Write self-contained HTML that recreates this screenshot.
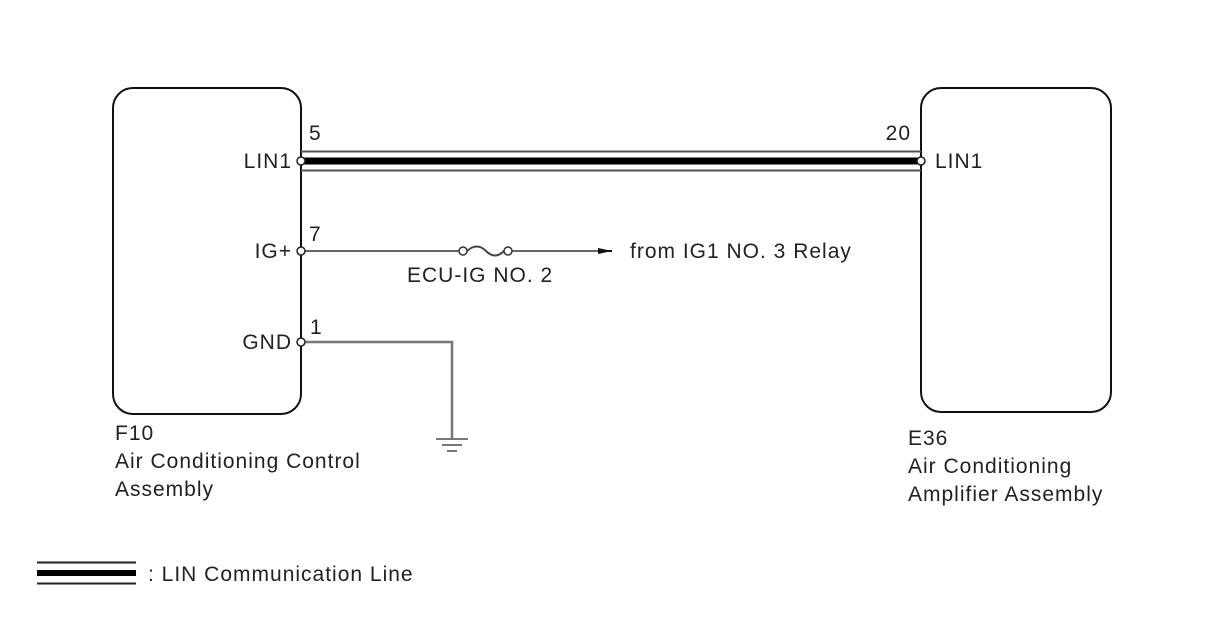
<!DOCTYPE html>
<html><head><meta charset="utf-8"><style>
html,body{margin:0;padding:0;background:#fff;}
svg{display:block;}
text{font-family:"Liberation Sans",Arial,sans-serif;font-size:21px;letter-spacing:1px;fill:#222;}
</style></head><body>
<svg width="1208" height="644" viewBox="0 0 1208 644" xmlns="http://www.w3.org/2000/svg">
<rect width="1208" height="644" fill="#fff"/>
<rect x="113" y="88" width="188" height="326" rx="20" fill="none" stroke="#111" stroke-width="2"/>
<rect x="921" y="88" width="190" height="324" rx="20" fill="none" stroke="#111" stroke-width="2"/>
<line x1="301" y1="151.5" x2="921" y2="151.5" stroke="#555" stroke-width="2"/>
<line x1="301" y1="170.5" x2="921" y2="170.5" stroke="#555" stroke-width="2"/>
<line x1="301" y1="161" x2="921" y2="161" stroke="#000" stroke-width="7"/>
<line x1="301" y1="251" x2="459" y2="251" stroke="#666" stroke-width="2"/>
<path d="M467 251 Q477 242 486 251 Q495 260 504 251" fill="none" stroke="#444" stroke-width="2"/>
<line x1="512" y1="251" x2="600" y2="251" stroke="#666" stroke-width="2"/>
<polygon points="598,248 612,251 598,254" fill="#111"/>
<line x1="598" y1="251" x2="612" y2="251" stroke="#111" stroke-width="2"/>
<circle cx="463" cy="251" r="4" fill="#fff" stroke="#333" stroke-width="1.5"/>
<circle cx="508" cy="251" r="4" fill="#fff" stroke="#333" stroke-width="1.5"/>
<polyline points="301,342 452,342 452,438" fill="none" stroke="#777" stroke-width="2.5"/>
<line x1="436" y1="439" x2="468" y2="439" stroke="#777" stroke-width="2"/>
<line x1="442" y1="445" x2="462" y2="445" stroke="#777" stroke-width="2"/>
<line x1="447" y1="451" x2="457" y2="451" stroke="#777" stroke-width="2"/>
<circle cx="301" cy="161" r="4" fill="#fff" stroke="#222" stroke-width="1.5"/>
<circle cx="301" cy="251" r="4" fill="#fff" stroke="#222" stroke-width="1.5"/>
<circle cx="301" cy="342" r="4" fill="#fff" stroke="#222" stroke-width="1.5"/>
<circle cx="921" cy="161" r="4" fill="#fff" stroke="#222" stroke-width="1.5"/>
<text x="292" y="168" text-anchor="end">LIN1</text>
<text x="292" y="258" text-anchor="end">IG+</text>
<text x="292" y="349" text-anchor="end">GND</text>
<text x="309" y="140">5</text>
<text x="309" y="241">7</text>
<text x="310" y="334" font-size="18">1</text>
<text x="911" y="140" text-anchor="end">20</text>
<text x="935" y="168">LIN1</text>
<text x="407" y="282">ECU-IG NO. 2</text>
<text x="630" y="258">from IG1 NO. 3 Relay</text>
<text x="115" y="440">F10</text>
<text x="115" y="468">Air Conditioning Control</text>
<text x="115" y="496">Assembly</text>
<text x="908" y="445">E36</text>
<text x="908" y="473">Air Conditioning</text>
<text x="908" y="501">Amplifier Assembly</text>
<line x1="37" y1="562.5" x2="136" y2="562.5" stroke="#222" stroke-width="2"/>
<line x1="37" y1="573" x2="136" y2="573" stroke="#000" stroke-width="6"/>
<line x1="37" y1="583.5" x2="136" y2="583.5" stroke="#222" stroke-width="2"/>
<text x="148" y="581">: LIN Communication Line</text>
</svg>
</body></html>
